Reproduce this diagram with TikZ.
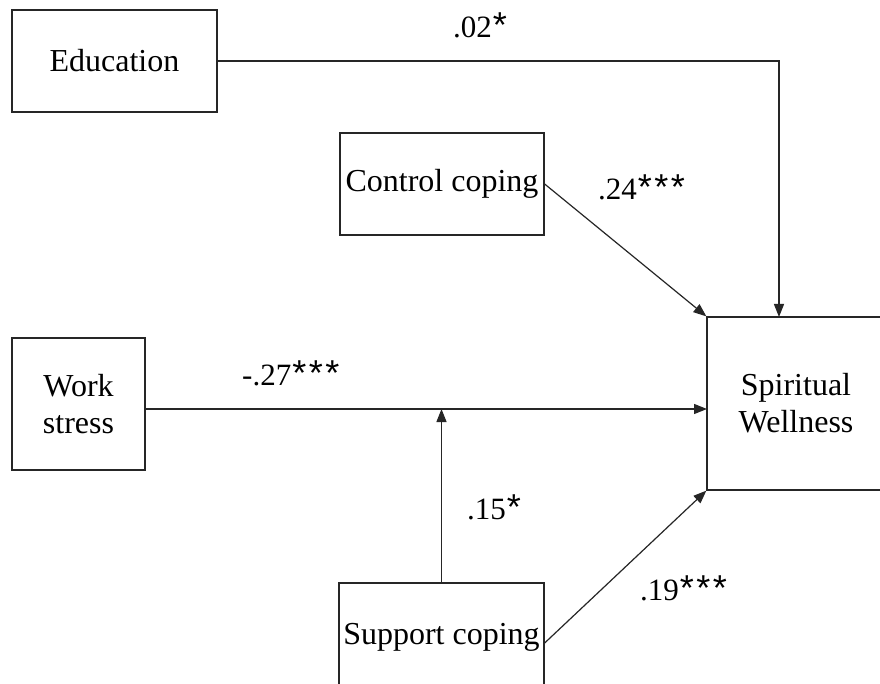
\documentclass[tikz,border=0pt]{standalone}
\usepackage{fontspec}
\setmainfont{Liberation Serif}
\newfontfamily\starfont{Liberation Sans}
\usetikzlibrary{arrows.meta}
% one significance star, set a little larger than the digits and spaced out
\newcommand{\onestar}{\kern1pt{\starfont\fontsize{36}{36}\selectfont *}\kern1.5pt}
\begin{document}
\begin{tikzpicture}[x=1pt,y=-1pt,
  box/.style={draw=black!85, line width=1.3pt, rectangle, inner sep=0pt, align=center,
    font=\fontsize{32}{37}\selectfont},
  conn/.style={draw=black!85, line width=1.2pt},
  arr/.style={conn, -{Triangle[length=13pt,width=10pt]}},
  coef/.style={inner sep=0pt, font=\fontsize{31}{36}\selectfont}]
  \clip (0,0) rectangle (880,684);
  \fill[white] (0,0) rectangle (880,684);

  % variables
  \node[box, minimum width=205pt, minimum height=102pt] (edu) at (114.5,61) {Education};
  \node[box, minimum width=204pt, minimum height=102pt] (ctrl) at (442,184) {Control coping};
  \node[box, minimum width=133pt, minimum height=132pt] (work) at (78.5,404) {Work\\stress};
  \node[box, minimum width=205pt, minimum height=108pt] (sup) at (441.5,637) {Support coping};
  \node[box, minimum width=178pt, minimum height=173pt] (sw) at (796,403.5) {Spiritual\\Wellness};

  % entry points on the outcome box
  \coordinate (swtop) at (779,317);
  \coordinate (swin) at (707,409);

  % paths
  \draw[arr] (edu.east) -| (swtop);
  \draw[arr] (ctrl.east) -- (sw.north west);
  \draw[arr] (work.east |- swin) -- (swin);
  \draw[arr] (sup.north) -- (sup.north |- swin);
  \draw[arr] ([yshift=-6pt]sup.east) -- (sw.south west);

  % coefficients
  \node[coef, anchor=base west] (c1) at (453,38) {.02\onestar};
  \node[coef, anchor=base west] (c2) at (598,200) {.24\onestar\onestar\onestar};
  \node[coef, anchor=base west] (c3) at (242,385) {-.27\onestar\onestar\onestar};
  \node[coef, anchor=base west] (c4) at (467,519) {.15\onestar};
  \node[coef, anchor=base west] (c5) at (640,600) {.19\onestar\onestar\onestar};
\end{tikzpicture}
\end{document}
